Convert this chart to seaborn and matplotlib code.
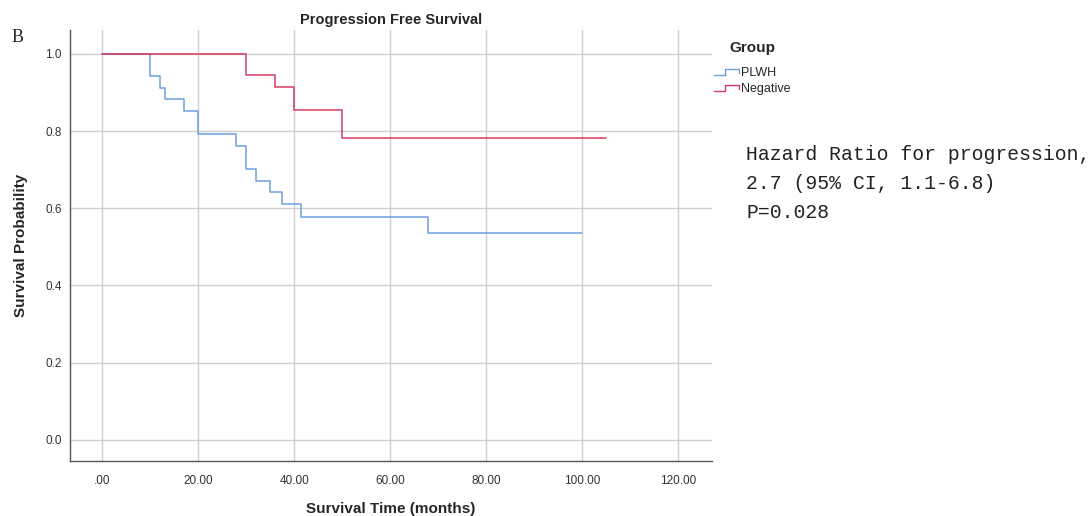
import numpy as np
import pandas as pd
import seaborn as sns
import matplotlib
matplotlib.use('Agg')
import matplotlib.pyplot as plt
from matplotlib.lines import Line2D
from matplotlib.legend_handler import HandlerBase

# Kaplan-Meier steps (months, survival)
plwh_time = [0, 10, 12, 13, 17, 20, 28, 30, 32, 35, 37.5, 41.5, 68, 100]
plwh_surv = [1.0, 0.942, 0.912, 0.882, 0.853, 0.792, 0.762, 0.702, 0.671, 0.641, 0.610, 0.578, 0.536, 0.536]
neg_time = [0, 30, 36, 40, 50, 105]
neg_surv = [1.0, 0.945, 0.915, 0.855, 0.783, 0.783]

groups = ['PLWH', 'Negative']
colors = ['#6d9fe0', '#d63a62']
xticks = [0, 20, 40, 60, 80, 100, 120]
xtick_labels = ['.00', '20.00', '40.00', '60.00', '80.00', '100.00', '120.00']
yticks = [0.0, 0.2, 0.4, 0.6, 0.8, 1.0]
note_lines = ['Hazard Ratio for progression,', '2.7 (95% CI, 1.1-6.8)', 'P=0.028']

df = pd.concat([
    pd.DataFrame({'time': plwh_time, 'surv': plwh_surv, 'group': 'PLWH'}),
    pd.DataFrame({'time': neg_time, 'surv': neg_surv, 'group': 'Negative'}),
], ignore_index=True)


class StepHandler(HandlerBase):
    # little step glyph like the SPSS legend
    def create_artists(self, legend, orig, xd, yd, w, h, fs, trans):
        xs = [xd, xd + w * 0.45, xd + w * 0.45, xd + w, xd + w]
        ys = [yd + h * 0.1, yd + h * 0.1, yd + h * 0.75, yd + h * 0.75, yd + h * 0.35]
        ln = Line2D(xs, ys, color=orig.get_color(), lw=1.0, transform=trans)
        return [ln]


sns.set_style('white')
plt.rcParams['font.family'] = ['Liberation Sans', 'DejaVu Sans']

fig = plt.figure(figsize=(10.9, 5.16), dpi=100)
ax = fig.add_axes([70 / 1090, 55 / 516, 642 / 1090, 431 / 516])

sns.lineplot(data=df, x='time', y='surv', hue='group', hue_order=groups,
             palette=dict(zip(groups, colors)), estimator=None, sort=False,
             drawstyle='steps-post', linewidth=1.1, ax=ax, legend=False, zorder=3)

ax.set_xlim(-6.7, 127.1)
ax.set_ylim(-0.055, 1.062)
ax.set_xticks(xticks)
ax.set_xticklabels(xtick_labels)
ax.set_yticks(yticks)
ax.set_yticklabels(['%.1f' % v for v in yticks])
ax.grid(True, color='#cfcfcf', linewidth=1.0)
ax.set_axisbelow(True)
for s in ['top', 'right']:
    ax.spines[s].set_visible(False)
for s in ['left', 'bottom']:
    ax.spines[s].set_color('#555555')
    ax.spines[s].set_linewidth(1.0)
ax.tick_params(length=0, labelsize=8.5, colors='#333333', pad=6)
ax.tick_params(axis='x', pad=10)

ax.set_title('Progression Free Survival', fontsize=10.5, fontweight='bold', pad=4)
ax.set_xlabel('Survival Time (months)', fontsize=11, fontweight='bold', labelpad=11)
ax.set_ylabel('Survival Probability', fontsize=11, fontweight='bold', labelpad=12)

handles = [Line2D([], [], color=c) for c in colors]
leg = ax.legend(handles, groups, title='Group', loc='upper left',
                bbox_to_anchor=(0.995, 0.985), frameon=False, fontsize=9,
                handler_map={Line2D: StepHandler()}, handlelength=2.0,
                handletextpad=0.2, labelspacing=0.35, borderaxespad=0)
leg.get_title().set_fontweight('bold')
leg.get_title().set_fontsize(11)
leg._legend_box.sep = 8

fig.text(12 / 1090, 1 - 38 / 516, 'B', fontsize=13, family='Liberation Serif', va='center')
for i, line in enumerate(note_lines):
    fig.text(746 / 1090, 1 - (155 + i * 28.5) / 516, line, fontsize=14.2,
             family='Liberation Mono', va='center', color='#222222')

fig.savefig('out.png', dpi=100)
